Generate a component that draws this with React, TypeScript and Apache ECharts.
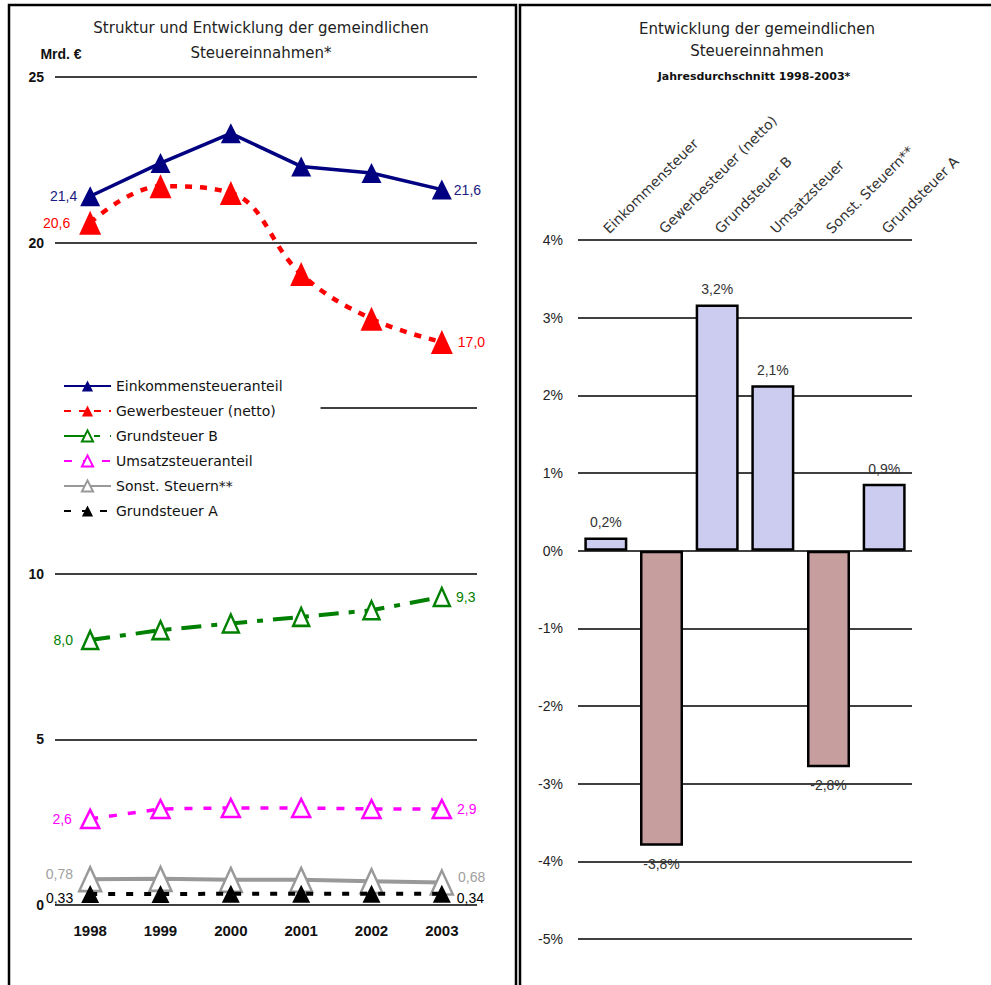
import React, { useEffect, useRef } from "react";
import * as echarts from "echarts";

// ---- Left chart data (Mrd. €) ----
const years = ["1998", "1999", "2000", "2001", "2002", "2003"];
const einkommensteueranteil = [21.4, 22.4, 23.3, 22.3, 22.1, 21.6];
const gewerbesteuer = [20.6, 21.7, 21.5, 19.05, 17.7, 17.0];
const grundsteuerB = [8.0, 8.3, 8.5, 8.7, 8.9, 9.3];
const umsatzsteueranteil = [2.6, 2.9, 2.93, 2.93, 2.9, 2.9];
const sonstSteuern = [0.78, 0.79, 0.76, 0.76, 0.72, 0.68];
const grundsteuerA = [0.33, 0.33, 0.34, 0.34, 0.34, 0.34];
const hiddenTick = 15;

// ---- Right chart data (% p.a.) ----
const barCategories = [
  "Einkommensteuer",
  "Gewerbesteuer (netto)",
  "Grundsteuer B",
  "Umsatzsteuer",
  "Sonst. Steuern**",
  "Grundsteuer A",
];
const barValues = [0.17, -3.8, 3.17, 2.13, -2.79, 0.86];

const SANS = '"Liberation Sans", Arial, sans-serif';
const DEJA = '"DejaVu Sans", sans-serif';

const de = (v: number, d: number) => v.toFixed(d).replace(".", ",");

const lineDefs = [
  { name: "Einkommensteueranteil", data: einkommensteueranteil, color: "#000080", labelColor: "#1a1a80", hollow: false, size: [20, 20], width: 3.5, type: "solid" as any, smooth: false, dec: 1, dl: 3, dr: 2, oy: 0 },
  { name: "Gewerbesteuer (netto)", data: gewerbesteuer, color: "#ff0000", labelColor: "#ff0000", hollow: false, size: [22, 24], width: 4.5, type: [7, 8] as any, smooth: 0.4, dec: 1, dl: 9, dr: 5, oy: 0 },
  { name: "Grundsteuer B", data: grundsteuerB, color: "#008000", labelColor: "#008000", hollow: true, size: [16, 18], width: 4, type: [20, 10, 6, 10] as any, smooth: false, dec: 1, dl: 8, dr: 5, oy: 0 },
  { name: "Umsatzsteueranteil", data: umsatzsteueranteil, color: "#ff00ff", labelColor: "#ff00ff", hollow: true, size: [18, 18], width: 3.5, type: [8, 11] as any, smooth: false, dec: 1, dl: 8, dr: 5, oy: 0 },
  { name: "Sonst. Steuern**", data: sonstSteuern, color: "#999999", labelColor: "#a0a0a0", hollow: true, size: [22, 24], width: 4, type: "solid" as any, smooth: false, dec: 2, dl: 5, dr: 4, oy: -5 },
  { name: "Grundsteuer A", data: grundsteuerA, color: "#000000", labelColor: "#000000", hollow: false, size: [18, 18], width: 4, type: [7, 11] as any, smooth: false, dec: 2, dl: 8, dr: 6, oy: 4 },
];

export default function App() {
  const ref = useRef<HTMLDivElement>(null);
  useEffect(() => {
    document.body.style.margin = "0";
    if (!ref.current) return;
    const chart = echarts.init(ref.current, undefined, { renderer: "svg" });

    const lineSeries = lineDefs.map((d, idx) => {
      const n = d.data.length;
      return {
        type: "line",
        name: d.name,
        xAxisIndex: 0,
        yAxisIndex: 0,
        z: 3 + idx,
        smooth: d.smooth,
        symbol: "triangle",
        symbolSize: d.size,
        showAllSymbol: true,
        lineStyle: { color: d.color, width: d.width, type: d.type },
        itemStyle: d.hollow
          ? { color: "#ffffff", borderColor: d.color, borderWidth: 2.5 }
          : { color: d.color, borderColor: d.color, borderWidth: 0 },
        label: {
          fontFamily: SANS,
          fontSize: 14,
          color: d.labelColor,
          offset: [0, d.oy],
          formatter: (p: any) => de(p.value, d.dec),
        },
        emphasis: { disabled: true },
        data: d.data.map((v, i) => ({
          value: v,
          label:
            i === 0
              ? { show: true, position: "left", distance: d.dl }
              : i === n - 1
              ? { show: true, position: "right", distance: d.dr }
              : { show: false },
        })),
      };
    });

    const option: any = {
      animation: false,
      textStyle: { fontFamily: SANS },
      legend: {
        data: lineDefs.map((d) => d.name),
        orient: "vertical",
        left: 55,
        top: 374,
        itemWidth: 47,
        itemHeight: 14,
        itemGap: 11,
        backgroundColor: "#ffffff",
        padding: [5, 38, 5, 8],
        textStyle: { fontFamily: DEJA, fontSize: 14, color: "#111" },
        selectedMode: false,
        z: 20,
      },
      grid: [
        { left: 55, right: 991 - 477, top: 77, bottom: 985 - 905 },
        { left: 578, right: 991 - 912, top: 240, bottom: 985 - 939 },
      ],
      xAxis: [
        {
          type: "category",
          gridIndex: 0,
          data: years,
          boundaryGap: true,
          axisLine: { show: false },
          axisTick: { show: false },
          axisLabel: { margin: 18, fontFamily: SANS, fontSize: 15, fontWeight: "bold", color: "#111" },
          splitLine: { show: false },
        },
        {
          type: "category",
          gridIndex: 1,
          position: "top",
          data: barCategories,
          axisLine: { show: false, onZero: false },
          axisTick: { show: false },
          axisLabel: { rotate: -45, interval: 0, margin: 9, fontFamily: DEJA, fontSize: 14, color: "#333" },
          splitLine: { show: false },
        },
      ],
      yAxis: [
        {
          type: "value",
          gridIndex: 0,
          min: 0,
          max: 25,
          interval: 5,
          axisLine: { show: false },
          axisTick: { show: false },
          axisLabel: {
            margin: 11,
            fontFamily: SANS,
            fontSize: 14,
            fontWeight: "bold",
            color: "#111",
            formatter: (v: number) => (v === hiddenTick ? "" : String(v)),
          },
          splitLine: { show: true, lineStyle: { color: "#000", width: 1.5 } },
        },
        {
          type: "value",
          gridIndex: 1,
          min: -5,
          max: 4,
          interval: 1,
          axisLine: { show: false },
          axisTick: { show: false },
          axisLabel: {
            margin: 15,
            fontFamily: SANS,
            fontSize: 14,
            color: "#222",
            formatter: (v: number) => `${v}%`,
          },
          splitLine: { show: true, lineStyle: { color: "#000", width: 1.5 } },
        },
      ],
      series: [
        ...lineSeries,
        {
          type: "bar",
          name: "Jahresdurchschnitt",
          xAxisIndex: 1,
          yAxisIndex: 1,
          barWidth: 43,
          z: 3,
          emphasis: { disabled: true },
          label: {
            show: true,
            fontFamily: SANS,
            fontSize: 14,
            color: "#333",
            formatter: (p: any) => de(p.value, 1) + "%",
          },
          data: barValues.map((v) => ({
            value: v,
            itemStyle: {
              color: v >= 0 ? "#ccccf0" : "#c69e9e",
              borderColor: "#000",
              borderWidth: 2.5,
            },
            label: { position: v >= 0 ? "top" : "bottom", distance: v >= 0 ? 8 : 11 },
          })),
        },
      ],
      graphic: [
        { type: "rect", silent: true, z: 50, shape: { x: 9, y: 5, width: 507, height: 1000 }, style: { fill: "none", stroke: "#000", lineWidth: 2.5 } },
        { type: "rect", silent: true, z: 50, shape: { x: 520, y: 5, width: 480, height: 1000 }, style: { fill: "none", stroke: "#000", lineWidth: 2.5 } },
        { type: "text", x: 261, y: 28, style: { text: "Struktur und Entwicklung der gemeindlichen", align: "center", verticalAlign: "middle", fontFamily: DEJA, fontSize: 15, fill: "#222" } },
        { type: "text", x: 261, y: 53, style: { text: "Steuereinnahmen*", align: "center", verticalAlign: "middle", fontFamily: DEJA, fontSize: 15, fill: "#222" } },
        { type: "text", x: 61, y: 54, style: { text: "Mrd. €", align: "center", verticalAlign: "middle", fontFamily: SANS, fontSize: 14, fontWeight: "bold", fill: "#111" } },
        { type: "text", x: 757, y: 29, style: { text: "Entwicklung der gemeindlichen", align: "center", verticalAlign: "middle", fontFamily: DEJA, fontSize: 15, fill: "#222" } },
        { type: "text", x: 757, y: 51, style: { text: "Steuereinnahmen", align: "center", verticalAlign: "middle", fontFamily: DEJA, fontSize: 15, fill: "#222" } },
        { type: "text", x: 754, y: 76, style: { text: "Jahresdurchschnitt 1998-2003*", align: "center", verticalAlign: "middle", fontFamily: DEJA, fontSize: 11, fontWeight: "bold", fill: "#111" } },
      ],
    };
    chart.setOption(option);
    return () => chart.dispose();
  }, []);
  return <div ref={ref} style={{ width: 991, height: 985 }} />;
}
